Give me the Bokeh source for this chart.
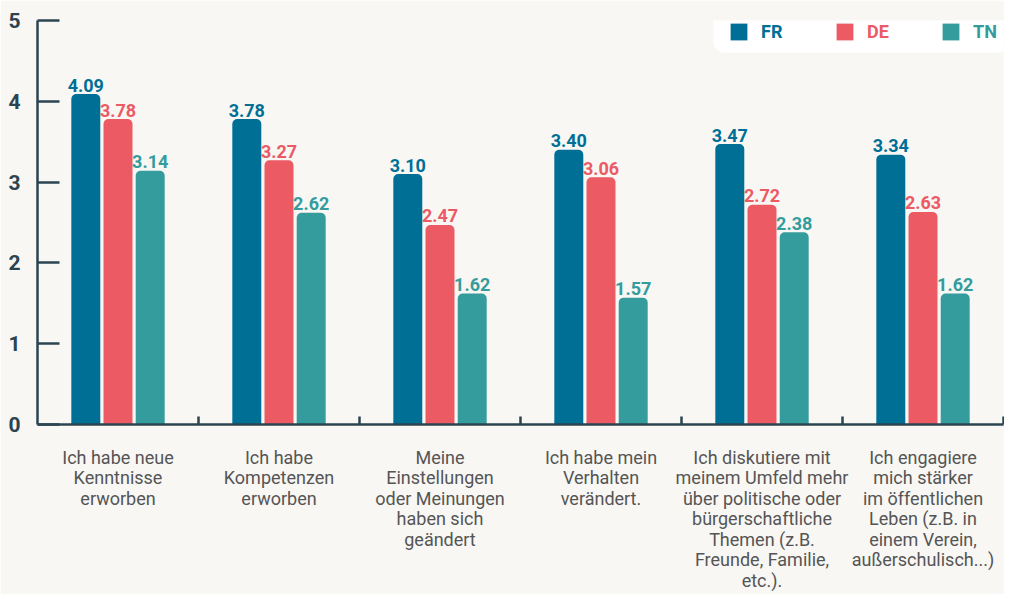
from bokeh.plotting import figure
from bokeh.models import Range1d, FixedTicker, Legend, LegendItem, ColumnDataSource, BoxAnnotation
from bokeh.transform import dodge
from bokeh.embed import file_html
from bokeh.resources import INLINE
from bokeh.core.properties import value

# ---- data ----
categories = [
    "Ich habe neue\nKenntnisse\nerworben",
    "Ich habe\nKompetenzen\nerworben",
    "Meine\nEinstellungen\noder Meinungen\nhaben sich\ngeändert",
    "Ich habe mein\nVerhalten\nverändert.",
    "Ich diskutiere mit\nmeinem Umfeld mehr\nüber politische oder\nbürgerschaftliche\nThemen (z.B.\nFreunde, Familie,\netc.).",
    "Ich engagiere\nmich stärker\nim öffentlichen\nLeben (z.B. in\neinem Verein,\naußerschulisch...)",
]
series = ["FR", "DE", "TN"]
fr_values = [4.09, 3.78, 3.10, 3.40, 3.47, 3.34]
de_values = [3.78, 3.27, 2.47, 3.06, 2.72, 2.63]
tn_values = [3.14, 2.62, 1.62, 1.57, 2.38, 1.62]
y_ticks = [0, 1, 2, 3, 4, 5]

colors = ["#006f96", "#ec5a64", "#349c9c"]
BG = "#f8f7f4"
AXIS = "#2b4450"
FONT = "Roboto"

idx = list(range(len(categories)))
src = ColumnDataSource(dict(
    x=idx,
    FR=fr_values, DE=de_values, TN=tn_values,
    FR_lbl=[f"{v:.2f}" for v in fr_values],
    DE_lbl=[f"{v:.2f}" for v in de_values],
    TN_lbl=[f"{v:.2f}" for v in tn_values],
))

FRAME_LEFT = 37
FRAME_BOTTOM = 594 - 170

p = figure(width=1004, height=594,
           x_range=Range1d(-0.5, len(categories) - 0.5),
           y_range=Range1d(0, 5),
           output_backend="svg", toolbar_location=None,
           background_fill_color=BG, border_fill_color=BG,
           min_border_left=FRAME_LEFT, min_border_right=1,
           min_border_top=20, min_border_bottom=170)
p.outline_line_color = None
p.grid.visible = False

# legend squares' left edges (canvas px)
leg_sq = [728, 834, 940]

# legend panel background (canvas pixels)
panel = BoxAnnotation(left=leg_sq[0] - 15, right=1040, top=10, bottom=52,
                      left_units="canvas", right_units="canvas",
                      top_units="canvas", bottom_units="canvas",
                      fill_color="white", fill_alpha=1.0, line_color=None)
try:
    panel.border_radius = 10
except Exception:
    pass
p.add_layout(panel)

offsets = [-0.2, 0.0, 0.2]
renderers = []
for s, off, c in zip(series, offsets, colors):
    kw = dict(x=dodge("x", off, range=p.x_range), top=s, width=0.18,
              source=src, fill_color=c, line_color=None)
    try:
        r = p.vbar(border_radius=(5, 5, 0, 0), **kw)
    except Exception:
        r = p.vbar(**kw)
    renderers.append(r)
    p.text(x=dodge("x", off, range=p.x_range), y=s, text=s + "_lbl", source=src,
           text_align="center", text_baseline="alphabetic", y_offset=-9,
           text_font=value(FONT), text_font_size="18px", text_font_style="bold",
           text_color=c)

# y axis
ya = p.yaxis[0]
ya.ticker = FixedTicker(ticks=y_ticks)
ya.axis_line_color = AXIS
ya.axis_line_width = 2.5
ya.major_tick_line_color = AXIS
ya.major_tick_line_width = 2.5
ya.major_tick_in = 22
ya.major_tick_out = 0
ya.minor_tick_line_color = None
ya.major_label_standoff = 17
ya.major_label_text_font = FONT
ya.major_label_text_font_size = "21px"
ya.major_label_text_font_style = "bold"
ya.major_label_text_color = AXIS

# x axis
xa = p.xaxis[0]
xa.ticker = FixedTicker(ticks=idx, minor_ticks=[i + 0.5 for i in idx])
xa.major_label_overrides = {i: lab for i, lab in zip(idx, categories)}
xa.axis_line_color = AXIS
xa.axis_line_width = 2.5
xa.major_tick_line_color = None
xa.major_tick_in = 0
xa.major_tick_out = 0
xa.minor_tick_line_color = AXIS
xa.minor_tick_line_width = 2.5
xa.minor_tick_in = 8
xa.minor_tick_out = 0
xa.major_label_standoff = 22
xa.major_label_text_font = FONT
xa.major_label_text_font_size = "18px"
xa.major_label_text_color = "#555555"
xa.major_label_text_line_height = 0.98

# legends (one per series so each label takes its series colour)
leg_y = FRAME_BOTTOM - 42
for s, r, c, sx in zip(series, renderers, colors, leg_sq):
    lg = Legend(items=[LegendItem(label=s, renderers=[r])],
                location=(sx - FRAME_LEFT, leg_y), orientation="horizontal",
                glyph_width=21, glyph_height=21, label_height=21,
                label_width=30, label_standoff=12, padding=0, spacing=0,
                margin=0, border_line_color=None,
                background_fill_alpha=0.0,
                label_text_font=FONT, label_text_font_size="18px",
                label_text_font_style="bold", label_text_color=c)
    p.add_layout(lg, "center")

open("out.html", "w").write(file_html(p, INLINE))
